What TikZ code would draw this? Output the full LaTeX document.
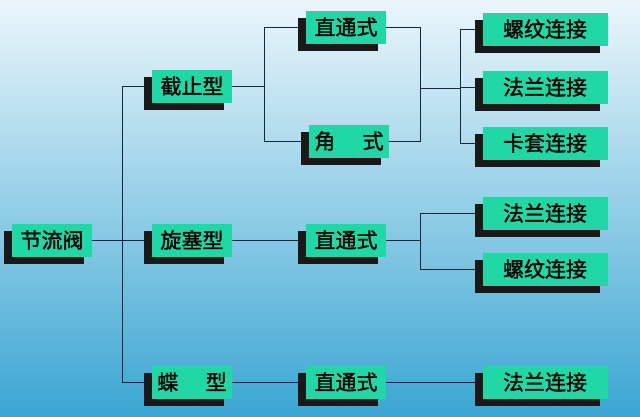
\documentclass[tikz,border=0pt]{standalone}
\usepackage{fontspec}
\newfontfamily\cjk[FakeBold=1.5]{Noto Sans CJK SC}
\usetikzlibrary{shadows,backgrounds}

\tikzset{
  ValveBox/.style = {fill={rgb,255:red,31;green,216;blue,165}, font=\cjk\fontsize{21}{21}\selectfont,
    text=black, minimum width=80pt, minimum height=33pt, inner sep=0pt,
    drop shadow={shadow xshift=-8pt, shadow yshift=-7pt, fill=black!90, opacity=1}},
  WideBox/.style = {ValveBox, minimum width=125pt},
  LinkStyle/.style = {draw={rgb,255:red,20;green,40;blue,60}, line width=0.8pt}
}

\begin{document}
\begin{tikzpicture}[x=1pt,y=-1pt]
\useasboundingbox (0,0) rectangle (640,416);

\node[ValveBox] (JL) at (52, 240) {节流阀};
\node[ValveBox] (JZ) at (192, 86) {截止型};
\node[ValveBox] (XS) at (192, 240) {旋塞型};
\node[ValveBox] (DX) at (192, 382) {蝶\hspace{1.3em}型};
\node[ValveBox] (ZT1) at (346, 27) {直通式};
\node[ValveBox] (JS) at (349, 141) {角\hspace{1.3em}式};
\node[ValveBox] (ZT2) at (346, 240) {直通式};
\node[ValveBox] (ZT3) at (346, 382) {直通式};
\node[WideBox] (LW1) at (545, 29) {螺纹连接};
\node[WideBox] (FL1) at (545, 87) {法兰连接};
\node[WideBox] (KT) at (545, 143) {卡套连接};
\node[WideBox] (FL2) at (545, 213) {法兰连接};
\node[WideBox] (LW2) at (545, 269) {螺纹连接};
\node[WideBox] (FL3) at (545, 382) {法兰连接};

\coordinate (T1) at (122, 240);
\coordinate (T2) at (264, 86);
\coordinate (T3) at (420, 88);
\coordinate (T4) at (460, 88);
\coordinate (T5) at (420, 240);

\begin{pgfonlayer}{background}
\shade[top color={rgb,255:red,235;green,246;blue,251}, bottom color={rgb,255:red,58;green,166;blue,210}]
  (0,0) rectangle (640,416);
\draw[LinkStyle] (JL.east) -- (T1);
\draw[LinkStyle] (T1) |- (JZ.west);
\draw[LinkStyle] (T1) -- (XS.west);
\draw[LinkStyle] (T1) |- (DX.west);
\draw[LinkStyle] (JZ.east) -- (T2);
\draw[LinkStyle] (T2) |- (ZT1.west);
\draw[LinkStyle] (T2) |- (JS.west);
\draw[LinkStyle] (ZT1.east) -| (T3);
\draw[LinkStyle] (JS.east) -| (T3);
\draw[LinkStyle] (T3) -- (T4);
\draw[LinkStyle] (T4) |- (LW1.west);
\draw[LinkStyle] (T4) |- (FL1.west);
\draw[LinkStyle] (T4) |- (KT.west);
\draw[LinkStyle] (XS.east) -- (ZT2.west);
\draw[LinkStyle] (ZT2.east) -- (T5);
\draw[LinkStyle] (T5) |- (FL2.west);
\draw[LinkStyle] (T5) |- (LW2.west);
\draw[LinkStyle] (DX.east) -- (ZT3.west);
\draw[LinkStyle] (ZT3.east) -- (FL3.west);
\end{pgfonlayer}
\end{tikzpicture}
\end{document}
